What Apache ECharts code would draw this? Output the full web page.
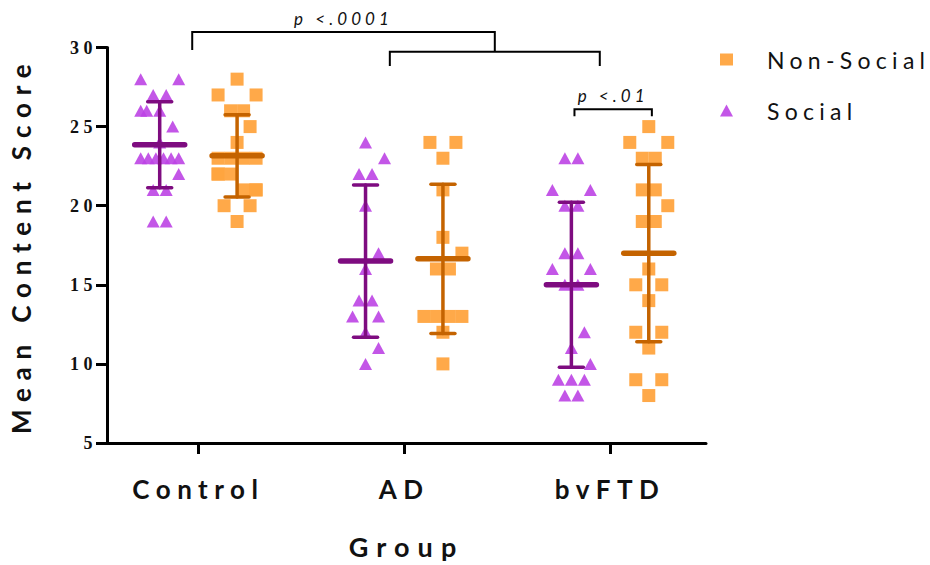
<!DOCTYPE html>
<html><head><meta charset="utf-8">
<script src="https://cdn.jsdelivr.net/npm/echarts@6/dist/echarts.min.js"></script>
<style>
html,body{margin:0;padding:0;background:#fff}
#chart{width:930px;height:565px}
#chart text{letter-spacing:0.2em}
</style></head><body><div id="chart"></div>
<script>
// ---------------- data ----------------
const categories = ['Control', 'AD', 'bvFTD'];
const seriesNames = ['Social', 'Non-Social'];
const yTicks = [5, 10, 15, 20, 25, 30];
const socialControl    = [28,28,27,27,26,26,26,25,24,23,23,23,23,23,23,22,21,21,19,19];
const nonSocialControl = [28,27,27,26,26,25,24,23,23,23,23,22,22,22,21,21,21,20,20,19];
const socialAD         = [24,23,22,22,20,17,16,14,14,13,13,12,11,10];
const nonSocialAD      = [24,24,23,21,18,17,16,16,13,13,13,13,12,10];
const socialBvFTD      = [23,23,21,21,20,20,17,17,16,16,15,15,12,11,10,9,9,9,8,8];
const nonSocialBvFTD   = [25,24,24,23,23,21,21,20,19,19,16,15,15,14,12,12,11,9,9,8];
const sigLabels = ['p <.0001', 'p <.01'];

// ---------------- layout ----------------
const W = 930, H = 565;
const gridLeft = 107, gridRight = 224, gridTop = 47.5, gridBottom = 122;
const xMin = -0.444, xMax = 2.466;
const groupOffset = 0.188;
const pxPerX = (W - gridLeft - gridRight) / (xMax - xMin);

function swarmOffsets(values) {
  const step = 13, cap = 19, clearance = 12;
  const counts = new Map();
  values.forEach(v => counts.set(v, (counts.get(v) || 0) + 1));
  const rows = [...counts.keys()].sort((a, b) => a - b);
  const placed = new Map();
  const clamp = o => Math.max(-cap, Math.min(cap, o));
  rows.forEach(v => {
    const k = counts.get(v);
    const below = placed.get(v - 1) || [];
    const candidates = [];
    [1, 2, 3].forEach(m => {
      let s = step * m;
      if (k > 1 && (k - 1) / 2 * s > cap) s = 2 * cap / (k - 1);
      const base = [];
      for (let i = 0; i < k; i++) base.push((i - (k - 1) / 2) * s);
      candidates.push(base);
      if (k % 2 === 1) {
        [step, -step, 1.5 * step, -1.5 * step].forEach(sh => candidates.push(base.map(o => clamp(o + sh))));
      }
    });
    let best = candidates[0], bestScore = -Infinity;
    for (const c of candidates) {
      let score = Infinity;
      c.forEach(o => below.forEach(b => { score = Math.min(score, Math.abs(o - b)); }));
      if (score >= clearance) { best = c; break; }
      if (score > bestScore) { bestScore = score; best = c; }
    }
    placed.set(v, best.slice());
  });
  const used = new Map();
  return values.map(v => {
    const arr = placed.get(v); const i = used.get(v) || 0; used.set(v, i + 1); return arr[i];
  });
}

function points(groups, side) {
  const out = [];
  groups.forEach((vals, ci) => {
    const offs = swarmOffsets(vals);
    vals.forEach((v, i) => out.push([ci + side * groupOffset + offs[i] / pxPerX, v]));
  });
  return out;
}
function stats(groups, side) {
  return groups.map((vals, ci) => {
    const n = vals.length;
    const mean = vals.reduce((a, b) => a + b, 0) / n;
    const sd = Math.sqrt(vals.reduce((a, b) => a + (b - mean) * (b - mean), 0) / (n - 1));
    return [ci + side * groupOffset, mean, sd];
  });
}

const socialGroups = [socialControl, socialAD, socialBvFTD];
const nonSocialGroups = [nonSocialControl, nonSocialAD, nonSocialBvFTD];

// bracket annotations: [xLeft, xRight, yBar, yLeftEnd, yRightEnd, labelIndex]
const bracketDefs = [
  [-0.03, 1.44, 30.98, 29.84, 29.73, 0],
  [0.93, 1.95, 29.73, 28.83, 28.83, -1],
  [2 - groupOffset + 0.015, 2 + groupOffset + 0.015, 26.1, 25.66, 25.66, 1]
];

function errorBarSeries(name, groups, side, color) {
  return {
    type: 'custom', name: name + ' mean', z: 5, silent: true, clip: false,
    data: stats(groups, side),
    renderItem: function (params, api) {
      const x = api.value(0), m = api.value(1), sd = api.value(2);
      const top = api.coord([x, m + sd]), bot = api.coord([x, m - sd]), mid = api.coord([x, m]);
      const ls = (w) => ({ stroke: color, lineWidth: w, lineCap: 'round' });
      return { type: 'group', children: [
        { type: 'line', shape: { x1: top[0], y1: top[1], x2: bot[0], y2: bot[1] }, style: ls(3.5) },
        { type: 'line', shape: { x1: top[0] - 12, y1: top[1], x2: top[0] + 12, y2: top[1] }, style: ls(3.5) },
        { type: 'line', shape: { x1: bot[0] - 12, y1: bot[1], x2: bot[0] + 12, y2: bot[1] }, style: ls(3.5) },
        { type: 'line', shape: { x1: mid[0] - 25, y1: mid[1], x2: mid[0] + 25, y2: mid[1] }, style: ls(5.5) }
      ]};
    }
  };
}

const chart = echarts.init(document.getElementById('chart'), null, { renderer: 'svg', width: W, height: H });
const sansFont = 'Lato';
chart.setOption({
  animation: false,
  backgroundColor: '#fff',
  grid: { left: gridLeft, right: gridRight, top: gridTop, bottom: gridBottom, containLabel: false, outerBoundsMode: 'none' },
  legend: {
    data: ['Non-Social', 'Social'], orient: 'vertical', left: 715, top: 43,
    itemWidth: 13, itemHeight: 12, itemGap: 28, selectedMode: false,
    textStyle: { fontSize: 23, fontFamily: sansFont, color: '#111', padding: [0, 0, 0, 29] }
  },
  xAxis: {
    type: 'value', min: xMin, max: xMax,
    name: 'Group', nameLocation: 'middle', nameGap: 90,
    nameTextStyle: { fontSize: 27, fontWeight: 'bold', fontFamily: sansFont, color: '#111' },
    axisLine: { show: true, onZero: false, lineStyle: { color: '#000', width: 3 } },
    axisTick: { show: true, customValues: [0, 1, 2], length: 11, lineStyle: { color: '#000', width: 3 } },
    axisLabel: { customValues: [0, 1, 2], formatter: v => categories[Math.round(v)], margin: 33,
      fontSize: 26, fontWeight: 'bold', fontFamily: sansFont, color: '#111' },
    splitLine: { show: false }
  },
  yAxis: {
    type: 'value', min: yTicks[0], max: yTicks[yTicks.length - 1], interval: 5,
    name: 'Mean Content Score', nameLocation: 'middle', nameGap: 73,
    nameTextStyle: { fontSize: 26, fontWeight: 'bold', fontFamily: sansFont, color: '#111' },
    axisLine: { show: true, onZero: false, lineStyle: { color: '#000', width: 3 } },
    axisTick: { show: true, length: 11, lineStyle: { color: '#000', width: 3 } },
    axisLabel: { margin: 10, fontSize: 18, fontWeight: 'bold', fontFamily: 'Liberation Serif', color: '#111',
      showMinLabel: true, showMaxLabel: true },
    splitLine: { show: false }
  },
  series: [
    { type: 'scatter', name: 'Social', symbol: 'triangle', symbolSize: [13, 12], z: 2,
      itemStyle: { color: '#BC44E4', opacity: 0.9 }, data: points(socialGroups, -1) },
    { type: 'scatter', name: 'Non-Social', symbol: 'rect', symbolSize: 13, z: 2,
      itemStyle: { color: '#FFA43F', opacity: 0.95 }, data: points(nonSocialGroups, 1) },
    errorBarSeries('Social', socialGroups, -1, '#7E0C80'),
    errorBarSeries('Non-Social', nonSocialGroups, 1, '#C46300'),
    { type: 'custom', name: 'brackets', z: 6, silent: true, clip: false,
      data: bracketDefs,
      renderItem: function (params, api) {
        const x1 = api.value(0), x2 = api.value(1), y = api.value(2), yl = api.value(3), yr = api.value(4);
        const li = bracketDefs[params.dataIndex][5];
        const a = api.coord([x1, yl]), b = api.coord([x1, y]), c = api.coord([x2, y]), d = api.coord([x2, yr]);
        const children = [{ type: 'polyline', shape: { points: [a, b, c, d] },
          style: { stroke: '#000', lineWidth: 2, fill: null } }];
        if (li >= 0) {
          children.push({ type: 'text', x: (b[0] + c[0]) / 2, y: b[1] - 5,
            style: { text: sigLabels[li], fontSize: 17, fontStyle: 'italic', fontFamily: sansFont,
              fill: '#111', align: 'center', verticalAlign: 'bottom' } });
        }
        return { type: 'group', children: children };
      }
    }
  ]
});

// per-text letter spacing (the reference uses widely tracked type)
const tracking = { 'Mean Content Score': '0.3em', 'Group': '0.3em', 'Control': '0.25em', 'AD': '0.25em', 'bvFTD': '0.25em',
  'Non-Social': '0.23em', 'Social': '0.23em', 'p <.0001': '0.24em', 'p <.01': '0.24em' };
document.querySelectorAll('#chart text').forEach(t => {
  const s = tracking[t.textContent.trim()];
  t.style.letterSpacing = s || '0.25em';
});
</script></body></html>
